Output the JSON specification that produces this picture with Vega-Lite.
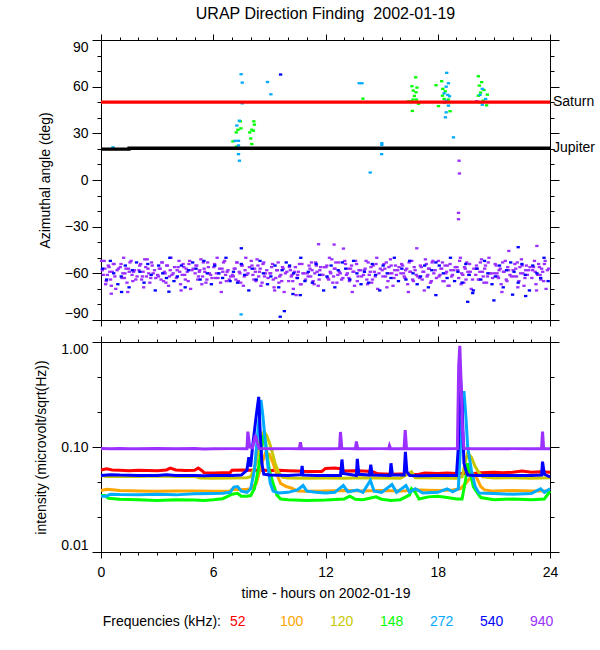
{
  "$schema": "https://vega.github.io/schema/vega-lite/v6.json",
  "padding": {"left": 34, "top": 5, "right": 5, "bottom": 5},
  "spacing": 8,
  "config": {
    "font": "Liberation Sans",
    "view": {"stroke": "black", "strokeWidth": 1},
    "axis": {
      "domain": false,
      "grid": false,
      "tickColor": "black",
      "labelColor": "black",
      "labelFontSize": 14,
      "labelOverlap": false,
      "titleColor": "black",
      "titleFontSize": 14,
      "titleFontWeight": "normal"
    }
  },
  "datasets": {
    "angles": [
      {"t":0.03,"a":-52,"f":"940"},{"t":0.12,"a":-61,"f":"940"},{"t":0.21,"a":-57,"f":"940"},{"t":0.28,"a":-65,"f":"940"},{"t":0.39,"a":-55,"f":"940"},{"t":0.47,"a":-59,"f":"940"},{"t":0.55,"a":-68,"f":"940"},{"t":0.66,"a":-54,"f":"940"},{"t":0.74,"a":-62,"f":"940"},{"t":0.86,"a":-58,"f":"940"},
      {"t":1.03,"a":-56,"f":"940"},{"t":1.12,"a":-63,"f":"940"},{"t":1.21,"a":-50,"f":"940"},{"t":1.28,"a":-60,"f":"940"},{"t":1.39,"a":-66,"f":"940"},{"t":1.47,"a":-57,"f":"940"},{"t":1.55,"a":-53,"f":"940"},{"t":1.66,"a":-61,"f":"940"},{"t":1.74,"a":-59,"f":"940"},{"t":1.86,"a":-64,"f":"940"},
      {"t":2.03,"a":-58,"f":"940"},{"t":2.12,"a":-54,"f":"940"},{"t":2.21,"a":-62,"f":"940"},{"t":2.28,"a":-69,"f":"940"},{"t":2.39,"a":-56,"f":"940"},{"t":2.47,"a":-51,"f":"940"},{"t":2.55,"a":-60,"f":"940"},{"t":2.66,"a":-63,"f":"940"},{"t":2.74,"a":-55,"f":"940"},{"t":2.86,"a":-58,"f":"940"},
      {"t":3.03,"a":-61,"f":"940"},{"t":3.12,"a":-57,"f":"940"},{"t":3.21,"a":-64,"f":"940"},{"t":3.28,"a":-53,"f":"940"},{"t":3.39,"a":-59,"f":"940"},{"t":3.47,"a":-66,"f":"940"},{"t":3.55,"a":-55,"f":"940"},{"t":3.66,"a":-62,"f":"940"},{"t":3.74,"a":-50,"f":"940"},{"t":3.86,"a":-60,"f":"940"},
      {"t":4.03,"a":-63,"f":"940"},{"t":4.12,"a":-56,"f":"940"},{"t":4.21,"a":-59,"f":"940"},{"t":4.28,"a":-71,"f":"940"},{"t":4.39,"a":-54,"f":"940"},{"t":4.47,"a":-61,"f":"940"},{"t":4.55,"a":-57,"f":"940"},{"t":4.66,"a":-65,"f":"940"},{"t":4.74,"a":-52,"f":"940"},{"t":4.86,"a":-58,"f":"940"},
      {"t":5.03,"a":-60,"f":"940"},{"t":5.12,"a":-55,"f":"940"},{"t":5.21,"a":-62,"f":"940"},{"t":5.28,"a":-58,"f":"940"},{"t":5.39,"a":-67,"f":"940"},{"t":5.47,"a":-53,"f":"940"},{"t":5.55,"a":-59,"f":"940"},{"t":5.66,"a":-64,"f":"940"},{"t":5.74,"a":-56,"f":"940"},{"t":5.86,"a":-61,"f":"940"},
      {"t":6.03,"a":-56,"f":"940"},{"t":6.12,"a":-63,"f":"940"},{"t":6.21,"a":-50,"f":"940"},{"t":6.28,"a":-60,"f":"940"},{"t":6.39,"a":-66,"f":"940"},{"t":6.47,"a":-57,"f":"940"},{"t":6.55,"a":-53,"f":"940"},{"t":6.66,"a":-61,"f":"940"},{"t":6.74,"a":-59,"f":"940"},{"t":6.86,"a":-64,"f":"940"},
      {"t":7.03,"a":-61,"f":"940"},{"t":7.12,"a":-57,"f":"940"},{"t":7.21,"a":-64,"f":"940"},{"t":7.28,"a":-53,"f":"940"},{"t":7.39,"a":-59,"f":"940"},{"t":7.47,"a":-66,"f":"940"},{"t":7.55,"a":-55,"f":"940"},{"t":7.66,"a":-62,"f":"940"},{"t":7.74,"a":-50,"f":"940"},{"t":7.86,"a":-60,"f":"940"},
      {"t":8.03,"a":-52,"f":"940"},{"t":8.12,"a":-61,"f":"940"},{"t":8.21,"a":-57,"f":"940"},{"t":8.28,"a":-65,"f":"940"},{"t":8.39,"a":-55,"f":"940"},{"t":8.47,"a":-59,"f":"940"},{"t":8.55,"a":-68,"f":"940"},{"t":8.66,"a":-54,"f":"940"},{"t":8.74,"a":-62,"f":"940"},{"t":8.86,"a":-58,"f":"940"},
      {"t":9.03,"a":-60,"f":"940"},{"t":9.12,"a":-56,"f":"940"},{"t":9.21,"a":-64,"f":"940"},{"t":9.28,"a":-71,"f":"940"},{"t":9.39,"a":-58,"f":"940"},{"t":9.47,"a":-53,"f":"940"},{"t":9.55,"a":-62,"f":"940"},{"t":9.66,"a":-65,"f":"940"},{"t":9.74,"a":-57,"f":"940"},{"t":9.86,"a":-60,"f":"940"},
      {"t":10.03,"a":-65,"f":"940"},{"t":10.12,"a":-58,"f":"940"},{"t":10.21,"a":-61,"f":"940"},{"t":10.28,"a":-70,"f":"940"},{"t":10.39,"a":-56,"f":"940"},{"t":10.47,"a":-63,"f":"940"},{"t":10.55,"a":-59,"f":"940"},{"t":10.66,"a":-67,"f":"940"},{"t":10.74,"a":-54,"f":"940"},{"t":10.86,"a":-60,"f":"940"},
      {"t":11.03,"a":-60,"f":"940"},{"t":11.12,"a":-55,"f":"940"},{"t":11.21,"a":-62,"f":"940"},{"t":11.28,"a":-58,"f":"940"},{"t":11.39,"a":-67,"f":"940"},{"t":11.47,"a":-53,"f":"940"},{"t":11.55,"a":-59,"f":"940"},{"t":11.66,"a":-64,"f":"940"},{"t":11.74,"a":-56,"f":"940"},{"t":11.86,"a":-61,"f":"940"},
      {"t":12.03,"a":-56,"f":"940"},{"t":12.12,"a":-63,"f":"940"},{"t":12.21,"a":-50,"f":"940"},{"t":12.28,"a":-60,"f":"940"},{"t":12.39,"a":-66,"f":"940"},{"t":12.47,"a":-57,"f":"940"},{"t":12.55,"a":-53,"f":"940"},{"t":12.66,"a":-61,"f":"940"},{"t":12.74,"a":-59,"f":"940"},{"t":12.86,"a":-64,"f":"940"},
      {"t":13.03,"a":-52,"f":"940"},{"t":13.12,"a":-61,"f":"940"},{"t":13.21,"a":-57,"f":"940"},{"t":13.28,"a":-65,"f":"940"},{"t":13.39,"a":-55,"f":"940"},{"t":13.47,"a":-59,"f":"940"},{"t":13.55,"a":-68,"f":"940"},{"t":13.66,"a":-54,"f":"940"},{"t":13.74,"a":-62,"f":"940"},{"t":13.86,"a":-58,"f":"940"},
      {"t":14.03,"a":-61,"f":"940"},{"t":14.12,"a":-57,"f":"940"},{"t":14.21,"a":-64,"f":"940"},{"t":14.28,"a":-53,"f":"940"},{"t":14.39,"a":-59,"f":"940"},{"t":14.47,"a":-66,"f":"940"},{"t":14.55,"a":-55,"f":"940"},{"t":14.66,"a":-62,"f":"940"},{"t":14.74,"a":-50,"f":"940"},{"t":14.86,"a":-60,"f":"940"},
      {"t":15.03,"a":-58,"f":"940"},{"t":15.12,"a":-54,"f":"940"},{"t":15.21,"a":-62,"f":"940"},{"t":15.28,"a":-69,"f":"940"},{"t":15.39,"a":-56,"f":"940"},{"t":15.47,"a":-51,"f":"940"},{"t":15.55,"a":-60,"f":"940"},{"t":15.66,"a":-63,"f":"940"},{"t":15.74,"a":-55,"f":"940"},{"t":15.86,"a":-58,"f":"940"},
      {"t":16.03,"a":-60,"f":"940"},{"t":16.12,"a":-55,"f":"940"},{"t":16.21,"a":-62,"f":"940"},{"t":16.28,"a":-58,"f":"940"},{"t":16.39,"a":-67,"f":"940"},{"t":16.47,"a":-53,"f":"940"},{"t":16.55,"a":-59,"f":"940"},{"t":16.66,"a":-64,"f":"940"},{"t":16.74,"a":-56,"f":"940"},{"t":16.86,"a":-61,"f":"940"},
      {"t":17.03,"a":-63,"f":"940"},{"t":17.12,"a":-56,"f":"940"},{"t":17.21,"a":-59,"f":"940"},{"t":17.28,"a":-71,"f":"940"},{"t":17.39,"a":-54,"f":"940"},{"t":17.47,"a":-61,"f":"940"},{"t":17.55,"a":-57,"f":"940"},{"t":17.66,"a":-65,"f":"940"},{"t":17.74,"a":-52,"f":"940"},{"t":17.86,"a":-58,"f":"940"},
      {"t":18.03,"a":-52,"f":"940"},{"t":18.12,"a":-61,"f":"940"},{"t":18.21,"a":-57,"f":"940"},{"t":18.28,"a":-65,"f":"940"},{"t":18.39,"a":-55,"f":"940"},{"t":18.47,"a":-59,"f":"940"},{"t":18.55,"a":-68,"f":"940"},{"t":18.66,"a":-54,"f":"940"},{"t":18.74,"a":-62,"f":"940"},{"t":18.86,"a":-58,"f":"940"},
      {"t":19.03,"a":-56,"f":"940"},{"t":19.12,"a":-63,"f":"940"},{"t":19.21,"a":-50,"f":"940"},{"t":19.28,"a":-60,"f":"940"},{"t":19.39,"a":-66,"f":"940"},{"t":19.47,"a":-57,"f":"940"},{"t":19.55,"a":-53,"f":"940"},{"t":19.66,"a":-61,"f":"940"},{"t":19.74,"a":-59,"f":"940"},{"t":19.86,"a":-64,"f":"940"},
      {"t":20.03,"a":-61,"f":"940"},{"t":20.12,"a":-57,"f":"940"},{"t":20.21,"a":-64,"f":"940"},{"t":20.28,"a":-53,"f":"940"},{"t":20.39,"a":-59,"f":"940"},{"t":20.47,"a":-66,"f":"940"},{"t":20.55,"a":-55,"f":"940"},{"t":20.66,"a":-62,"f":"940"},{"t":20.74,"a":-50,"f":"940"},{"t":20.86,"a":-60,"f":"940"},
      {"t":21.03,"a":-60,"f":"940"},{"t":21.12,"a":-55,"f":"940"},{"t":21.21,"a":-62,"f":"940"},{"t":21.28,"a":-58,"f":"940"},{"t":21.39,"a":-67,"f":"940"},{"t":21.47,"a":-53,"f":"940"},{"t":21.55,"a":-59,"f":"940"},{"t":21.66,"a":-64,"f":"940"},{"t":21.74,"a":-56,"f":"940"},{"t":21.86,"a":-61,"f":"940"},
      {"t":22.03,"a":-58,"f":"940"},{"t":22.12,"a":-54,"f":"940"},{"t":22.21,"a":-62,"f":"940"},{"t":22.28,"a":-69,"f":"940"},{"t":22.39,"a":-56,"f":"940"},{"t":22.47,"a":-51,"f":"940"},{"t":22.55,"a":-60,"f":"940"},{"t":22.66,"a":-63,"f":"940"},{"t":22.74,"a":-55,"f":"940"},{"t":22.86,"a":-58,"f":"940"},
      {"t":23.03,"a":-63,"f":"940"},{"t":23.12,"a":-56,"f":"940"},{"t":23.21,"a":-59,"f":"940"},{"t":23.28,"a":-71,"f":"940"},{"t":23.39,"a":-54,"f":"940"},{"t":23.47,"a":-61,"f":"940"},{"t":23.55,"a":-57,"f":"940"},{"t":23.66,"a":-65,"f":"940"},{"t":23.74,"a":-52,"f":"940"},{"t":23.86,"a":-58,"f":"940"},
      {"t":0.07,"a":-58,"f":"940"},{"t":0.17,"a":-52,"f":"940"},{"t":0.25,"a":-67,"f":"940"},{"t":0.34,"a":-61,"f":"940"},{"t":0.43,"a":-56,"f":"940"},{"t":0.51,"a":-64,"f":"940"},{"t":0.61,"a":-59,"f":"940"},{"t":0.7,"a":-54,"f":"940"},{"t":0.79,"a":-70,"f":"940"},{"t":0.93,"a":-57,"f":"940"},
      {"t":1.07,"a":-54,"f":"940"},{"t":1.17,"a":-60,"f":"940"},{"t":1.25,"a":-63,"f":"940"},{"t":1.34,"a":-57,"f":"940"},{"t":1.43,"a":-72,"f":"940"},{"t":1.51,"a":-59,"f":"940"},{"t":1.61,"a":-52,"f":"940"},{"t":1.7,"a":-65,"f":"940"},{"t":1.79,"a":-58,"f":"940"},{"t":1.93,"a":-62,"f":"940"},
      {"t":2.07,"a":-55,"f":"940"},{"t":2.17,"a":-64,"f":"940"},{"t":2.25,"a":-59,"f":"940"},{"t":2.34,"a":-51,"f":"940"},{"t":2.43,"a":-62,"f":"940"},{"t":2.51,"a":-57,"f":"940"},{"t":2.61,"a":-66,"f":"940"},{"t":2.7,"a":-53,"f":"940"},{"t":2.79,"a":-60,"f":"940"},{"t":2.93,"a":-63,"f":"940"},
      {"t":3.07,"a":-62,"f":"940"},{"t":3.17,"a":-57,"f":"940"},{"t":3.25,"a":-53,"f":"940"},{"t":3.34,"a":-65,"f":"940"},{"t":3.43,"a":-60,"f":"940"},{"t":3.51,"a":-55,"f":"940"},{"t":3.61,"a":-68,"f":"940"},{"t":3.7,"a":-58,"f":"940"},{"t":3.79,"a":-61,"f":"940"},{"t":3.93,"a":-56,"f":"940"},
      {"t":4.07,"a":-58,"f":"940"},{"t":4.17,"a":-52,"f":"940"},{"t":4.25,"a":-67,"f":"940"},{"t":4.34,"a":-61,"f":"940"},{"t":4.43,"a":-56,"f":"940"},{"t":4.51,"a":-64,"f":"940"},{"t":4.61,"a":-59,"f":"940"},{"t":4.7,"a":-54,"f":"940"},{"t":4.79,"a":-70,"f":"940"},{"t":4.93,"a":-57,"f":"940"},
      {"t":5.07,"a":-55,"f":"940"},{"t":5.17,"a":-64,"f":"940"},{"t":5.25,"a":-59,"f":"940"},{"t":5.34,"a":-51,"f":"940"},{"t":5.43,"a":-62,"f":"940"},{"t":5.51,"a":-57,"f":"940"},{"t":5.61,"a":-66,"f":"940"},{"t":5.7,"a":-53,"f":"940"},{"t":5.79,"a":-60,"f":"940"},{"t":5.93,"a":-63,"f":"940"},
      {"t":6.07,"a":-54,"f":"940"},{"t":6.17,"a":-60,"f":"940"},{"t":6.25,"a":-63,"f":"940"},{"t":6.34,"a":-57,"f":"940"},{"t":6.43,"a":-72,"f":"940"},{"t":6.51,"a":-59,"f":"940"},{"t":6.61,"a":-52,"f":"940"},{"t":6.7,"a":-65,"f":"940"},{"t":6.79,"a":-58,"f":"940"},{"t":6.93,"a":-62,"f":"940"},
      {"t":7.07,"a":-62,"f":"940"},{"t":7.17,"a":-57,"f":"940"},{"t":7.25,"a":-53,"f":"940"},{"t":7.34,"a":-65,"f":"940"},{"t":7.43,"a":-60,"f":"940"},{"t":7.51,"a":-55,"f":"940"},{"t":7.61,"a":-68,"f":"940"},{"t":7.7,"a":-58,"f":"940"},{"t":7.79,"a":-61,"f":"940"},{"t":7.93,"a":-56,"f":"940"},
      {"t":8.07,"a":-55,"f":"940"},{"t":8.17,"a":-64,"f":"940"},{"t":8.25,"a":-59,"f":"940"},{"t":8.34,"a":-51,"f":"940"},{"t":8.43,"a":-62,"f":"940"},{"t":8.51,"a":-57,"f":"940"},{"t":8.61,"a":-66,"f":"940"},{"t":8.7,"a":-53,"f":"940"},{"t":8.79,"a":-60,"f":"940"},{"t":8.93,"a":-63,"f":"940"},
      {"t":9.07,"a":-60,"f":"940"},{"t":9.17,"a":-54,"f":"940"},{"t":9.25,"a":-69,"f":"940"},{"t":9.34,"a":-63,"f":"940"},{"t":9.43,"a":-58,"f":"940"},{"t":9.51,"a":-66,"f":"940"},{"t":9.61,"a":-61,"f":"940"},{"t":9.7,"a":-56,"f":"940"},{"t":9.79,"a":-72,"f":"940"},{"t":9.93,"a":-59,"f":"940"},
      {"t":10.07,"a":-56,"f":"940"},{"t":10.17,"a":-62,"f":"940"},{"t":10.25,"a":-65,"f":"940"},{"t":10.34,"a":-59,"f":"940"},{"t":10.43,"a":-74,"f":"940"},{"t":10.51,"a":-61,"f":"940"},{"t":10.61,"a":-54,"f":"940"},{"t":10.7,"a":-67,"f":"940"},{"t":10.79,"a":-60,"f":"940"},{"t":10.93,"a":-64,"f":"940"},
      {"t":11.07,"a":-62,"f":"940"},{"t":11.17,"a":-57,"f":"940"},{"t":11.25,"a":-53,"f":"940"},{"t":11.34,"a":-65,"f":"940"},{"t":11.43,"a":-60,"f":"940"},{"t":11.51,"a":-55,"f":"940"},{"t":11.61,"a":-68,"f":"940"},{"t":11.7,"a":-58,"f":"940"},{"t":11.79,"a":-61,"f":"940"},{"t":11.93,"a":-56,"f":"940"},
      {"t":12.07,"a":-55,"f":"940"},{"t":12.17,"a":-64,"f":"940"},{"t":12.25,"a":-59,"f":"940"},{"t":12.34,"a":-51,"f":"940"},{"t":12.43,"a":-62,"f":"940"},{"t":12.51,"a":-57,"f":"940"},{"t":12.61,"a":-66,"f":"940"},{"t":12.7,"a":-53,"f":"940"},{"t":12.79,"a":-60,"f":"940"},{"t":12.93,"a":-63,"f":"940"},
      {"t":13.07,"a":-54,"f":"940"},{"t":13.17,"a":-60,"f":"940"},{"t":13.25,"a":-63,"f":"940"},{"t":13.34,"a":-57,"f":"940"},{"t":13.43,"a":-72,"f":"940"},{"t":13.51,"a":-59,"f":"940"},{"t":13.61,"a":-52,"f":"940"},{"t":13.7,"a":-65,"f":"940"},{"t":13.79,"a":-58,"f":"940"},{"t":13.93,"a":-62,"f":"940"},
      {"t":14.07,"a":-58,"f":"940"},{"t":14.17,"a":-52,"f":"940"},{"t":14.25,"a":-67,"f":"940"},{"t":14.34,"a":-61,"f":"940"},{"t":14.43,"a":-56,"f":"940"},{"t":14.51,"a":-64,"f":"940"},{"t":14.61,"a":-59,"f":"940"},{"t":14.7,"a":-54,"f":"940"},{"t":14.79,"a":-70,"f":"940"},{"t":14.93,"a":-57,"f":"940"},
      {"t":15.07,"a":-62,"f":"940"},{"t":15.17,"a":-57,"f":"940"},{"t":15.25,"a":-53,"f":"940"},{"t":15.34,"a":-65,"f":"940"},{"t":15.43,"a":-60,"f":"940"},{"t":15.51,"a":-55,"f":"940"},{"t":15.61,"a":-68,"f":"940"},{"t":15.7,"a":-58,"f":"940"},{"t":15.79,"a":-61,"f":"940"},{"t":15.93,"a":-56,"f":"940"},
      {"t":16.07,"a":-54,"f":"940"},{"t":16.17,"a":-60,"f":"940"},{"t":16.25,"a":-63,"f":"940"},{"t":16.34,"a":-57,"f":"940"},{"t":16.43,"a":-72,"f":"940"},{"t":16.51,"a":-59,"f":"940"},{"t":16.61,"a":-52,"f":"940"},{"t":16.7,"a":-65,"f":"940"},{"t":16.79,"a":-58,"f":"940"},{"t":16.93,"a":-62,"f":"940"},
      {"t":17.07,"a":-55,"f":"940"},{"t":17.17,"a":-64,"f":"940"},{"t":17.25,"a":-59,"f":"940"},{"t":17.34,"a":-51,"f":"940"},{"t":17.43,"a":-62,"f":"940"},{"t":17.51,"a":-57,"f":"940"},{"t":17.61,"a":-66,"f":"940"},{"t":17.7,"a":-53,"f":"940"},{"t":17.79,"a":-60,"f":"940"},{"t":17.93,"a":-63,"f":"940"},
      {"t":18.07,"a":-62,"f":"940"},{"t":18.17,"a":-57,"f":"940"},{"t":18.25,"a":-53,"f":"940"},{"t":18.34,"a":-65,"f":"940"},{"t":18.43,"a":-60,"f":"940"},{"t":18.51,"a":-55,"f":"940"},{"t":18.61,"a":-68,"f":"940"},{"t":18.7,"a":-58,"f":"940"},{"t":18.79,"a":-61,"f":"940"},{"t":18.93,"a":-56,"f":"940"},
      {"t":19.07,"a":-58,"f":"940"},{"t":19.17,"a":-52,"f":"940"},{"t":19.25,"a":-67,"f":"940"},{"t":19.34,"a":-61,"f":"940"},{"t":19.43,"a":-56,"f":"940"},{"t":19.51,"a":-64,"f":"940"},{"t":19.61,"a":-59,"f":"940"},{"t":19.7,"a":-54,"f":"940"},{"t":19.79,"a":-70,"f":"940"},{"t":19.93,"a":-57,"f":"940"},
      {"t":20.07,"a":-55,"f":"940"},{"t":20.17,"a":-64,"f":"940"},{"t":20.25,"a":-59,"f":"940"},{"t":20.34,"a":-51,"f":"940"},{"t":20.43,"a":-62,"f":"940"},{"t":20.51,"a":-57,"f":"940"},{"t":20.61,"a":-66,"f":"940"},{"t":20.7,"a":-53,"f":"940"},{"t":20.79,"a":-60,"f":"940"},{"t":20.93,"a":-63,"f":"940"},
      {"t":21.07,"a":-54,"f":"940"},{"t":21.17,"a":-60,"f":"940"},{"t":21.25,"a":-63,"f":"940"},{"t":21.34,"a":-57,"f":"940"},{"t":21.43,"a":-72,"f":"940"},{"t":21.51,"a":-59,"f":"940"},{"t":21.61,"a":-52,"f":"940"},{"t":21.7,"a":-65,"f":"940"},{"t":21.79,"a":-58,"f":"940"},{"t":21.93,"a":-62,"f":"940"},
      {"t":22.07,"a":-62,"f":"940"},{"t":22.17,"a":-57,"f":"940"},{"t":22.25,"a":-53,"f":"940"},{"t":22.34,"a":-65,"f":"940"},{"t":22.43,"a":-60,"f":"940"},{"t":22.51,"a":-55,"f":"940"},{"t":22.61,"a":-68,"f":"940"},{"t":22.7,"a":-58,"f":"940"},{"t":22.79,"a":-61,"f":"940"},{"t":22.93,"a":-56,"f":"940"},
      {"t":23.07,"a":-58,"f":"940"},{"t":23.17,"a":-52,"f":"940"},{"t":23.25,"a":-67,"f":"940"},{"t":23.34,"a":-61,"f":"940"},{"t":23.43,"a":-56,"f":"940"},{"t":23.51,"a":-64,"f":"940"},{"t":23.61,"a":-59,"f":"940"},{"t":23.7,"a":-54,"f":"940"},{"t":23.79,"a":-70,"f":"940"},{"t":23.93,"a":-57,"f":"940"},
      {"t":0.55,"a":-73.1,"f":"940"},{"t":11.63,"a":-41.3,"f":"940"},{"t":12.46,"a":-41.5,"f":"940"},{"t":12.96,"a":-44.1,"f":"940"},{"t":16.88,"a":-43.9,"f":"940"},{"t":23.3,"a":-42.4,"f":"940"},{"t":21.8,"a":-45.6,"f":"940"},
      {"t":19.14,"a":12.4,"f":"940"},{"t":19.16,"a":4.2,"f":"940"},{"t":19.11,"a":-21.1,"f":"940"},{"t":19.11,"a":-25.2,"f":"940"},{"t":20.08,"a":50.6,"f":"940"},
      {"t":0.08,"a":-57,"f":"540"},{"t":0.3,"a":-64,"f":"540"},{"t":0.5,"a":-52,"f":"540"},{"t":0.68,"a":-60,"f":"540"},{"t":0.9,"a":-67,"f":"540"},
      {"t":1.08,"a":-62,"f":"540"},{"t":1.3,"a":-55,"f":"540"},{"t":1.5,"a":-69,"f":"540"},{"t":1.68,"a":-58,"f":"540"},{"t":1.9,"a":-53,"f":"540"},
      {"t":2.08,"a":-59,"f":"540"},{"t":2.3,"a":-66,"f":"540"},{"t":2.5,"a":-54,"f":"540"},{"t":2.68,"a":-61,"f":"540"},{"t":2.9,"a":-71,"f":"540"},
      {"t":3.08,"a":-55,"f":"540"},{"t":3.3,"a":-60,"f":"540"},{"t":3.5,"a":-63,"f":"540"},{"t":3.68,"a":-50,"f":"540"},{"t":3.9,"a":-65,"f":"540"},
      {"t":4.08,"a":-62,"f":"540"},{"t":4.3,"a":-55,"f":"540"},{"t":4.5,"a":-69,"f":"540"},{"t":4.68,"a":-58,"f":"540"},{"t":4.9,"a":-53,"f":"540"},
      {"t":5.08,"a":-57,"f":"540"},{"t":5.3,"a":-64,"f":"540"},{"t":5.5,"a":-52,"f":"540"},{"t":5.68,"a":-60,"f":"540"},{"t":5.9,"a":-67,"f":"540"},
      {"t":6.08,"a":-55,"f":"540"},{"t":6.3,"a":-60,"f":"540"},{"t":6.5,"a":-63,"f":"540"},{"t":6.68,"a":-50,"f":"540"},{"t":6.9,"a":-65,"f":"540"},
      {"t":7.08,"a":-59,"f":"540"},{"t":7.3,"a":-66,"f":"540"},{"t":7.5,"a":-54,"f":"540"},{"t":7.68,"a":-61,"f":"540"},{"t":7.9,"a":-71,"f":"540"},
      {"t":8.08,"a":-57,"f":"540"},{"t":8.3,"a":-64,"f":"540"},{"t":8.5,"a":-52,"f":"540"},{"t":8.68,"a":-60,"f":"540"},{"t":8.9,"a":-67,"f":"540"},
      {"t":9.08,"a":-62,"f":"540"},{"t":9.3,"a":-55,"f":"540"},{"t":9.5,"a":-69,"f":"540"},{"t":9.68,"a":-58,"f":"540"},{"t":9.9,"a":-53,"f":"540"},
      {"t":10.08,"a":-55,"f":"540"},{"t":10.3,"a":-60,"f":"540"},{"t":10.5,"a":-63,"f":"540"},{"t":10.68,"a":-50,"f":"540"},{"t":10.9,"a":-65,"f":"540"},
      {"t":11.08,"a":-59,"f":"540"},{"t":11.3,"a":-66,"f":"540"},{"t":11.5,"a":-54,"f":"540"},{"t":11.68,"a":-61,"f":"540"},{"t":11.9,"a":-71,"f":"540"},
      {"t":12.08,"a":-62,"f":"540"},{"t":12.3,"a":-55,"f":"540"},{"t":12.5,"a":-69,"f":"540"},{"t":12.68,"a":-58,"f":"540"},{"t":12.9,"a":-53,"f":"540"},
      {"t":13.08,"a":-57,"f":"540"},{"t":13.3,"a":-64,"f":"540"},{"t":13.5,"a":-52,"f":"540"},{"t":13.68,"a":-60,"f":"540"},{"t":13.9,"a":-67,"f":"540"},
      {"t":14.08,"a":-59,"f":"540"},{"t":14.3,"a":-66,"f":"540"},{"t":14.5,"a":-54,"f":"540"},{"t":14.68,"a":-61,"f":"540"},{"t":14.9,"a":-71,"f":"540"},
      {"t":15.08,"a":-55,"f":"540"},{"t":15.3,"a":-60,"f":"540"},{"t":15.5,"a":-63,"f":"540"},{"t":15.68,"a":-50,"f":"540"},{"t":15.9,"a":-65,"f":"540"},
      {"t":16.08,"a":-57,"f":"540"},{"t":16.3,"a":-64,"f":"540"},{"t":16.5,"a":-52,"f":"540"},{"t":16.68,"a":-60,"f":"540"},{"t":16.9,"a":-67,"f":"540"},
      {"t":17.08,"a":-62,"f":"540"},{"t":17.3,"a":-55,"f":"540"},{"t":17.5,"a":-69,"f":"540"},{"t":17.68,"a":-58,"f":"540"},{"t":17.9,"a":-53,"f":"540"},
      {"t":18.08,"a":-55,"f":"540"},{"t":18.3,"a":-60,"f":"540"},{"t":18.5,"a":-63,"f":"540"},{"t":18.68,"a":-50,"f":"540"},{"t":18.9,"a":-65,"f":"540"},
      {"t":19.08,"a":-59,"f":"540"},{"t":19.3,"a":-66,"f":"540"},{"t":19.5,"a":-54,"f":"540"},{"t":19.68,"a":-61,"f":"540"},{"t":19.9,"a":-71,"f":"540"},
      {"t":20.08,"a":-57,"f":"540"},{"t":20.3,"a":-64,"f":"540"},{"t":20.5,"a":-52,"f":"540"},{"t":20.68,"a":-60,"f":"540"},{"t":20.9,"a":-67,"f":"540"},
      {"t":21.08,"a":-62,"f":"540"},{"t":21.3,"a":-55,"f":"540"},{"t":21.5,"a":-69,"f":"540"},{"t":21.68,"a":-58,"f":"540"},{"t":21.9,"a":-53,"f":"540"},
      {"t":22.08,"a":-59,"f":"540"},{"t":22.3,"a":-66,"f":"540"},{"t":22.5,"a":-54,"f":"540"},{"t":22.68,"a":-61,"f":"540"},{"t":22.9,"a":-71,"f":"540"},
      {"t":23.08,"a":-55,"f":"540"},{"t":23.3,"a":-60,"f":"540"},{"t":23.5,"a":-63,"f":"540"},{"t":23.68,"a":-50,"f":"540"},{"t":23.9,"a":-65,"f":"540"},
      {"t":17.9,"a":-74,"f":"540"},{"t":19.6,"a":-78.3,"f":"540"},{"t":19.87,"a":-72.7,"f":"540"},{"t":21.0,"a":-77.4,"f":"540"},{"t":22.0,"a":-73.7,"f":"540"},{"t":22.7,"a":-74.6,"f":"540"},{"t":10.26,"a":-73.3,"f":"540"},{"t":10.65,"a":-74,"f":"540"},{"t":3.63,"a":-71.8,"f":"540"},{"t":1.1,"a":-72,"f":"540"},{"t":22.3,"a":-43.2,"f":"540"},
      {"t":9.6,"a":67.8,"f":"540"},{"t":9.58,"a":-87.9,"f":"540"},{"t":9.8,"a":-84.3,"f":"540"},{"t":7.5,"a":-43.9,"f":"540"},
      {"t":7.45,"a":37.7,"f":"148"},{"t":7.32,"a":32.3,"f":"148"},{"t":7.48,"a":33.2,"f":"148"},{"t":7.23,"a":30.6,"f":"148"},{"t":7.05,"a":24.8,"f":"148"},{"t":7.23,"a":21.4,"f":"148"},{"t":7.33,"a":20.3,"f":"148"},
      {"t":8.17,"a":37.7,"f":"148"},{"t":8.2,"a":35.6,"f":"148"},{"t":8.06,"a":32.3,"f":"148"},{"t":8.15,"a":31.7,"f":"148"},{"t":7.95,"a":30.6,"f":"148"},{"t":8.0,"a":26.7,"f":"148"},{"t":8.06,"a":23.1,"f":"148"},
      {"t":14.0,"a":52.3,"f":"148"},
      {"t":16.82,"a":66,"f":"148"},{"t":16.62,"a":60.3,"f":"148"},{"t":16.89,"a":59.4,"f":"148"},{"t":16.69,"a":57.5,"f":"148"},{"t":16.84,"a":56.4,"f":"148"},{"t":16.75,"a":54,"f":"148"},{"t":16.68,"a":51.7,"f":"148"},{"t":16.86,"a":51.7,"f":"148"},{"t":16.43,"a":50.6,"f":"148"},{"t":16.61,"a":50.6,"f":"148"},{"t":16.97,"a":49,"f":"148"},{"t":16.64,"a":44.4,"f":"148"},
      {"t":17.91,"a":60.9,"f":"148"},{"t":18.21,"a":63.5,"f":"148"},{"t":18.27,"a":58.6,"f":"148"},{"t":18.4,"a":57,"f":"148"},{"t":18.25,"a":54.2,"f":"148"},{"t":18.34,"a":52.1,"f":"148"},{"t":18.57,"a":51.7,"f":"148"},{"t":18.04,"a":47.5,"f":"148"},{"t":18.66,"a":44.2,"f":"148"},
      {"t":20.17,"a":66.7,"f":"148"},{"t":20.35,"a":62.9,"f":"148"},{"t":20.22,"a":60.7,"f":"148"},{"t":20.47,"a":57.9,"f":"148"},{"t":20.29,"a":56.2,"f":"148"},{"t":20.65,"a":54.9,"f":"148"},{"t":20.17,"a":54.2,"f":"148"},{"t":20.43,"a":51,"f":"148"},{"t":20.27,"a":49.9,"f":"148"},{"t":20.61,"a":48,"f":"148"},
      {"t":7.49,"a":68,"f":"272"},{"t":7.55,"a":62.6,"f":"272"},{"t":8.9,"a":63,"f":"272"},{"t":9.08,"a":55.1,"f":"272"},{"t":7.55,"a":49.3,"f":"272"},{"t":7.39,"a":38.1,"f":"272"},{"t":7.26,"a":35,"f":"272"},{"t":7.17,"a":25.2,"f":"272"},{"t":7.35,"a":25.2,"f":"272"},{"t":7.35,"a":22.2,"f":"272"},{"t":7.35,"a":16.6,"f":"272"},{"t":7.4,"a":12.4,"f":"272"},{"t":0.64,"a":21,"f":"272"},{"t":7.49,"a":-86.4,"f":"272"},
      {"t":13.8,"a":62.2,"f":"272"},{"t":13.95,"a":62.2,"f":"272"},{"t":15.01,"a":23.7,"f":"272"},{"t":15.01,"a":22.6,"f":"272"},{"t":15.0,"a":16.6,"f":"272"},{"t":14.39,"a":4.8,"f":"272"},
      {"t":18.48,"a":68.9,"f":"272"},{"t":18.57,"a":62.2,"f":"272"},{"t":18.45,"a":60,"f":"272"},{"t":18.34,"a":55.7,"f":"272"},{"t":18.54,"a":54.7,"f":"272"},{"t":18.63,"a":53.8,"f":"272"},{"t":18.45,"a":51,"f":"272"},{"t":18.36,"a":49.7,"f":"272"},{"t":18.57,"a":47.8,"f":"272"},{"t":18.45,"a":43.5,"f":"272"},{"t":18.41,"a":40.3,"f":"272"},{"t":18.84,"a":27.4,"f":"272"},
      {"t":20.38,"a":58.6,"f":"272"},{"t":20.26,"a":54.7,"f":"272"},{"t":20.56,"a":52.1,"f":"272"},{"t":20.38,"a":48.4,"f":"272"}
    ],
    "planets": [
      {"t":0,"a":50,"p":"Saturn"},{"t":24,"a":50,"p":"Saturn"},
      {"t":0,"a":19.8,"p":"Jupiter"},{"t":1.5,"a":20.4,"p":"Jupiter"},{"t":24,"a":20.4,"p":"Jupiter"}
    ],
    "intensity": [
      {"t":0,"f":"52","v":0.0605},{"t":0.3,"f":"52","v":0.062},{"t":0.6,"f":"52","v":0.0605},{"t":1,"f":"52","v":0.06},{"t":1.5,"f":"52","v":0.0595},{"t":2,"f":"52","v":0.06},{"t":2.5,"f":"52","v":0.0598},{"t":3,"f":"52","v":0.0595},{"t":3.5,"f":"52","v":0.0605},{"t":3.7,"f":"52","v":0.063},{"t":4,"f":"52","v":0.0605},{"t":4.5,"f":"52","v":0.0598},{"t":5,"f":"52","v":0.06},{"t":5.2,"f":"52","v":0.063},{"t":5.4,"f":"52","v":0.0595},{"t":5.5,"f":"52","v":0.057},{"t":6,"f":"52","v":0.0565},{"t":6.5,"f":"52","v":0.057},{"t":6.9,"f":"52","v":0.057},{"t":7,"f":"52","v":0.06},{"t":7.5,"f":"52","v":0.0605},{"t":8,"f":"52","v":0.06},{"t":8.5,"f":"52","v":0.0605},{"t":9,"f":"52","v":0.0598},{"t":9.5,"f":"52","v":0.06},{"t":10,"f":"52","v":0.0595},{"t":10.5,"f":"52","v":0.0592},{"t":11,"f":"52","v":0.0585},{"t":11.8,"f":"52","v":0.0585},{"t":12,"f":"52","v":0.0625},{"t":12.5,"f":"52","v":0.063},{"t":12.8,"f":"52","v":0.062},{"t":13,"f":"52","v":0.059},{"t":13.5,"f":"52","v":0.0595},{"t":14,"f":"52","v":0.059},{"t":14.5,"f":"52","v":0.0585},{"t":14.8,"f":"52","v":0.0555},{"t":15.5,"f":"52","v":0.055},{"t":16,"f":"52","v":0.0552},{"t":16.5,"f":"52","v":0.0548},{"t":17,"f":"52","v":0.055},{"t":17.3,"f":"52","v":0.0565},{"t":18,"f":"52","v":0.056},{"t":18.5,"f":"52","v":0.0565},{"t":19,"f":"52","v":0.056},{"t":19.4,"f":"52","v":0.056},{"t":19.8,"f":"52","v":0.0555},{"t":20.3,"f":"52","v":0.057},{"t":21,"f":"52","v":0.0575},{"t":21.5,"f":"52","v":0.057},{"t":22,"f":"52","v":0.0575},{"t":22.5,"f":"52","v":0.059},{"t":23,"f":"52","v":0.0575},{"t":23.5,"f":"52","v":0.058},{"t":24,"f":"52","v":0.0575},
      {"t":0,"f":"100","v":0.0385},{"t":0.3,"f":"100","v":0.0395},{"t":0.6,"f":"100","v":0.0392},{"t":1,"f":"100","v":0.0385},{"t":2,"f":"100","v":0.038},{"t":3,"f":"100","v":0.0378},{"t":4,"f":"100","v":0.0382},{"t":5,"f":"100","v":0.038},{"t":6,"f":"100","v":0.0378},{"t":6.9,"f":"100","v":0.038},{"t":7,"f":"100","v":0.0395},{"t":7.5,"f":"100","v":0.0392},{"t":7.8,"f":"100","v":0.0395},{"t":8,"f":"100","v":0.04},{"t":8.3,"f":"100","v":0.045},{"t":8.6,"f":"100","v":0.07},{"t":8.8,"f":"100","v":0.088},{"t":9,"f":"100","v":0.085},{"t":9.2,"f":"100","v":0.07},{"t":9.4,"f":"100","v":0.055},{"t":9.6,"f":"100","v":0.045},{"t":9.9,"f":"100","v":0.042},{"t":10.2,"f":"100","v":0.0405},{"t":10.5,"f":"100","v":0.038},{"t":11,"f":"100","v":0.0378},{"t":12,"f":"100","v":0.038},{"t":13,"f":"100","v":0.0385},{"t":14,"f":"100","v":0.038},{"t":15,"f":"100","v":0.0385},{"t":16,"f":"100","v":0.038},{"t":17,"f":"100","v":0.039},{"t":18,"f":"100","v":0.0385},{"t":18.8,"f":"100","v":0.039},{"t":19.2,"f":"100","v":0.04},{"t":19.5,"f":"100","v":0.045},{"t":19.7,"f":"100","v":0.05},{"t":19.9,"f":"100","v":0.055},{"t":20.1,"f":"100","v":0.05},{"t":20.3,"f":"100","v":0.042},{"t":20.5,"f":"100","v":0.039},{"t":21,"f":"100","v":0.038},{"t":22,"f":"100","v":0.0385},{"t":23,"f":"100","v":0.0382},{"t":24,"f":"100","v":0.038},
      {"t":0,"f":"120","v":0.0535},{"t":0.3,"f":"120","v":0.0525},{"t":1,"f":"120","v":0.0525},{"t":2,"f":"120","v":0.0525},{"t":3,"f":"120","v":0.053},{"t":4,"f":"120","v":0.0525},{"t":5,"f":"120","v":0.0525},{"t":5.3,"f":"120","v":0.0507},{"t":6,"f":"120","v":0.0505},{"t":7,"f":"120","v":0.0507},{"t":7.8,"f":"120","v":0.051},{"t":8,"f":"120","v":0.052},{"t":8.3,"f":"120","v":0.07},{"t":8.5,"f":"120","v":0.12},{"t":8.7,"f":"120","v":0.14},{"t":8.85,"f":"120","v":0.13},{"t":9,"f":"120","v":0.11},{"t":9.15,"f":"120","v":0.09},{"t":9.3,"f":"120","v":0.07},{"t":9.5,"f":"120","v":0.057},{"t":9.7,"f":"120","v":0.0515},{"t":10,"f":"120","v":0.0507},{"t":11,"f":"120","v":0.0505},{"t":12,"f":"120","v":0.0507},{"t":13,"f":"120","v":0.0505},{"t":14,"f":"120","v":0.051},{"t":15,"f":"120","v":0.0507},{"t":16,"f":"120","v":0.0505},{"t":16.6,"f":"120","v":0.058},{"t":16.8,"f":"120","v":0.051},{"t":17,"f":"120","v":0.051},{"t":18,"f":"120","v":0.0507},{"t":19,"f":"120","v":0.0505},{"t":19.3,"f":"120","v":0.052},{"t":19.5,"f":"120","v":0.075},{"t":19.6,"f":"120","v":0.088},{"t":19.8,"f":"120","v":0.08},{"t":20,"f":"120","v":0.065},{"t":20.2,"f":"120","v":0.057},{"t":20.4,"f":"120","v":0.052},{"t":21,"f":"120","v":0.0507},{"t":22,"f":"120","v":0.051},{"t":23,"f":"120","v":0.0505},{"t":24,"f":"120","v":0.051},
      {"t":0,"f":"148","v":0.0345},{"t":0.2,"f":"148","v":0.0345},{"t":0.4,"f":"148","v":0.0325},{"t":1,"f":"148","v":0.0318},{"t":2,"f":"148","v":0.0315},{"t":3,"f":"148","v":0.031},{"t":4,"f":"148","v":0.0315},{"t":5,"f":"148","v":0.0312},{"t":5.5,"f":"148","v":0.031},{"t":6,"f":"148","v":0.0315},{"t":6.5,"f":"148","v":0.0322},{"t":6.8,"f":"148","v":0.034},{"t":7,"f":"148","v":0.0355},{"t":7.3,"f":"148","v":0.0362},{"t":7.5,"f":"148","v":0.034},{"t":7.8,"f":"148","v":0.034},{"t":8,"f":"148","v":0.0345},{"t":8.2,"f":"148","v":0.04},{"t":8.4,"f":"148","v":0.06},{"t":8.6,"f":"148","v":0.1},{"t":8.7,"f":"148","v":0.13},{"t":8.8,"f":"148","v":0.11},{"t":8.9,"f":"148","v":0.08},{"t":9,"f":"148","v":0.06},{"t":9.2,"f":"148","v":0.045},{"t":9.4,"f":"148","v":0.035},{"t":9.6,"f":"148","v":0.032},{"t":10,"f":"148","v":0.0315},{"t":11,"f":"148","v":0.031},{"t":12,"f":"148","v":0.0312},{"t":13,"f":"148","v":0.032},{"t":13.3,"f":"148","v":0.034},{"t":13.6,"f":"148","v":0.0318},{"t":14,"f":"148","v":0.0315},{"t":14.7,"f":"148","v":0.0335},{"t":15,"f":"148","v":0.0318},{"t":15.5,"f":"148","v":0.031},{"t":16,"f":"148","v":0.0315},{"t":16.5,"f":"148","v":0.035},{"t":16.6,"f":"148","v":0.04},{"t":16.8,"f":"148","v":0.037},{"t":17,"f":"148","v":0.032},{"t":17.5,"f":"148","v":0.0335},{"t":18,"f":"148","v":0.034},{"t":18.5,"f":"148","v":0.033},{"t":19,"f":"148","v":0.032},{"t":19.3,"f":"148","v":0.032},{"t":19.5,"f":"148","v":0.05},{"t":19.6,"f":"148","v":0.07},{"t":19.75,"f":"148","v":0.055},{"t":19.9,"f":"148","v":0.042},{"t":20.1,"f":"148","v":0.037},{"t":20.3,"f":"148","v":0.033},{"t":21,"f":"148","v":0.0315},{"t":22,"f":"148","v":0.032},{"t":23,"f":"148","v":0.0315},{"t":23.7,"f":"148","v":0.032},{"t":24,"f":"148","v":0.038},
      {"t":0,"f":"272","v":0.034},{"t":0.3,"f":"272","v":0.034},{"t":0.5,"f":"272","v":0.0355},{"t":1,"f":"272","v":0.0352},{"t":2,"f":"272","v":0.035},{"t":3,"f":"272","v":0.0355},{"t":4,"f":"272","v":0.035},{"t":5,"f":"272","v":0.0358},{"t":6,"f":"272","v":0.036},{"t":6.5,"f":"272","v":0.0362},{"t":6.9,"f":"272","v":0.037},{"t":7.1,"f":"272","v":0.0415},{"t":7.3,"f":"272","v":0.042},{"t":7.5,"f":"272","v":0.038},{"t":7.8,"f":"272","v":0.037},{"t":8,"f":"272","v":0.04},{"t":8.2,"f":"272","v":0.06},{"t":8.4,"f":"272","v":0.15},{"t":8.55,"f":"272","v":0.28},{"t":8.65,"f":"272","v":0.2},{"t":8.75,"f":"272","v":0.13},{"t":8.85,"f":"272","v":0.085},{"t":8.95,"f":"272","v":0.06},{"t":9.05,"f":"272","v":0.045},{"t":9.2,"f":"272","v":0.038},{"t":9.5,"f":"272","v":0.0365},{"t":10,"f":"272","v":0.037},{"t":10.5,"f":"272","v":0.039},{"t":10.8,"f":"272","v":0.043},{"t":11,"f":"272","v":0.038},{"t":11.5,"f":"272","v":0.037},{"t":12,"f":"272","v":0.0365},{"t":12.5,"f":"272","v":0.037},{"t":12.95,"f":"272","v":0.043},{"t":13.2,"f":"272","v":0.0375},{"t":13.7,"f":"272","v":0.039},{"t":14,"f":"272","v":0.037},{"t":14.4,"f":"272","v":0.048},{"t":14.6,"f":"272","v":0.038},{"t":15,"f":"272","v":0.037},{"t":15.55,"f":"272","v":0.044},{"t":15.8,"f":"272","v":0.037},{"t":16.3,"f":"272","v":0.043},{"t":16.5,"f":"272","v":0.037},{"t":16.8,"f":"272","v":0.04},{"t":17.2,"f":"272","v":0.0365},{"t":18,"f":"272","v":0.037},{"t":18.5,"f":"272","v":0.04},{"t":18.8,"f":"272","v":0.0375},{"t":19.1,"f":"272","v":0.04},{"t":19.2,"f":"272","v":0.09},{"t":19.3,"f":"272","v":0.22},{"t":19.4,"f":"272","v":0.34},{"t":19.5,"f":"272","v":0.2},{"t":19.6,"f":"272","v":0.1},{"t":19.8,"f":"272","v":0.06},{"t":20,"f":"272","v":0.042},{"t":20.2,"f":"272","v":0.0365},{"t":21,"f":"272","v":0.036},{"t":22,"f":"272","v":0.0355},{"t":23,"f":"272","v":0.036},{"t":23.5,"f":"272","v":0.04},{"t":23.7,"f":"272","v":0.037},{"t":24,"f":"272","v":0.04},
      {"t":0,"f":"540","v":0.0535},{"t":0.5,"f":"540","v":0.0545},{"t":1,"f":"540","v":0.054},{"t":2,"f":"540","v":0.0535},{"t":3,"f":"540","v":0.0535},{"t":3.5,"f":"540","v":0.0545},{"t":4,"f":"540","v":0.0535},{"t":5,"f":"540","v":0.0535},{"t":5.5,"f":"540","v":0.0532},{"t":6,"f":"540","v":0.0535},{"t":7,"f":"540","v":0.0535},{"t":7.5,"f":"540","v":0.054},{"t":7.8,"f":"540","v":0.06},{"t":7.9,"f":"540","v":0.08},{"t":8,"f":"540","v":0.065},{"t":8.1,"f":"540","v":0.1},{"t":8.3,"f":"540","v":0.2},{"t":8.43,"f":"540","v":0.3},{"t":8.5,"f":"540","v":0.15},{"t":8.6,"f":"540","v":0.07},{"t":8.7,"f":"540","v":0.055},{"t":9,"f":"540","v":0.054},{"t":10,"f":"540","v":0.0535},{"t":10.7,"f":"540","v":0.0545},{"t":10.75,"f":"540","v":0.066},{"t":10.8,"f":"540","v":0.054},{"t":11.5,"f":"540","v":0.0535},{"t":12,"f":"540","v":0.0535},{"t":12.8,"f":"540","v":0.0535},{"t":12.88,"f":"540","v":0.076},{"t":12.95,"f":"540","v":0.056},{"t":13.65,"f":"540","v":0.0535},{"t":13.7,"f":"540","v":0.077},{"t":13.78,"f":"540","v":0.055},{"t":14.35,"f":"540","v":0.054},{"t":14.42,"f":"540","v":0.068},{"t":14.5,"f":"540","v":0.054},{"t":15.45,"f":"540","v":0.0535},{"t":15.5,"f":"540","v":0.07},{"t":15.58,"f":"540","v":0.054},{"t":16.2,"f":"540","v":0.054},{"t":16.27,"f":"540","v":0.09},{"t":16.35,"f":"540","v":0.058},{"t":16.5,"f":"540","v":0.0535},{"t":17,"f":"540","v":0.0532},{"t":18,"f":"540","v":0.0535},{"t":19,"f":"540","v":0.0535},{"t":19.1,"f":"540","v":0.1},{"t":19.2,"f":"540","v":0.5},{"t":19.3,"f":"540","v":0.25},{"t":19.4,"f":"540","v":0.07},{"t":19.5,"f":"540","v":0.06},{"t":19.6,"f":"540","v":0.054},{"t":20,"f":"540","v":0.0535},{"t":21,"f":"540","v":0.0535},{"t":22,"f":"540","v":0.0535},{"t":23,"f":"540","v":0.0535},{"t":23.55,"f":"540","v":0.054},{"t":23.6,"f":"540","v":0.0725},{"t":23.7,"f":"540","v":0.055},{"t":24,"f":"540","v":0.052},
      {"t":0,"f":"940","v":0.097},{"t":0.5,"f":"940","v":0.0965},{"t":1,"f":"940","v":0.097},{"t":1.5,"f":"940","v":0.0965},{"t":2,"f":"940","v":0.0965},{"t":3,"f":"940","v":0.097},{"t":4,"f":"940","v":0.096},{"t":5,"f":"940","v":0.0965},{"t":5.5,"f":"940","v":0.0955},{"t":6,"f":"940","v":0.096},{"t":7,"f":"940","v":0.0965},{"t":7.8,"f":"940","v":0.0965},{"t":7.85,"f":"940","v":0.14},{"t":7.95,"f":"940","v":0.1},{"t":8.1,"f":"940","v":0.098},{"t":8.25,"f":"940","v":0.13},{"t":8.35,"f":"940","v":0.11},{"t":8.45,"f":"940","v":0.097},{"t":9,"f":"940","v":0.096},{"t":10,"f":"940","v":0.0965},{"t":10.6,"f":"940","v":0.0965},{"t":10.66,"f":"940","v":0.111},{"t":10.72,"f":"940","v":0.0965},{"t":11,"f":"940","v":0.0965},{"t":12,"f":"940","v":0.0962},{"t":12.75,"f":"940","v":0.0965},{"t":12.8,"f":"940","v":0.139},{"t":12.87,"f":"940","v":0.097},{"t":13.6,"f":"940","v":0.0965},{"t":13.65,"f":"940","v":0.113},{"t":13.72,"f":"940","v":0.0965},{"t":14,"f":"940","v":0.096},{"t":15,"f":"940","v":0.0965},{"t":15.38,"f":"940","v":0.0965},{"t":15.42,"f":"940","v":0.103},{"t":15.48,"f":"940","v":0.0965},{"t":16.2,"f":"940","v":0.0965},{"t":16.26,"f":"940","v":0.145},{"t":16.33,"f":"940","v":0.0965},{"t":17,"f":"940","v":0.0965},{"t":18,"f":"940","v":0.096},{"t":19.05,"f":"940","v":0.0965},{"t":19.12,"f":"940","v":0.6},{"t":19.18,"f":"940","v":0.92},{"t":19.25,"f":"940","v":0.4},{"t":19.32,"f":"940","v":0.15},{"t":19.4,"f":"940","v":0.0965},{"t":20,"f":"940","v":0.096},{"t":21,"f":"940","v":0.0962},{"t":22,"f":"940","v":0.0965},{"t":23,"f":"940","v":0.0962},{"t":23.55,"f":"940","v":0.0965},{"t":23.6,"f":"940","v":0.14},{"t":23.66,"f":"940","v":0.0965},{"t":24,"f":"940","v":0.0965}
    ],
    "freqs": [
      {"f":"52"},{"f":"100"},{"f":"120"},{"f":"148"},{"f":"272"},{"f":"540"},{"f":"940"}
    ]
  },
  "vconcat": [
    {
      "width": 449,
      "height": 280,
      "title": {"text": "URAP Direction Finding\u00a0 2002-01-19", "fontSize": 16, "fontWeight": "normal", "color": "black", "frame": "group", "offset": 12},
      "layer": [
        {
          "data": {"name": "angles"},
          "mark": {"type": "point", "shape": "M-1,-0.7H1V0.7H-1Z", "filled": true, "size": 11, "opacity": 1, "strokeWidth": 0},
          "encoding": {
            "x": {"field": "t", "type": "quantitative", "scale": {"domain": [0, 24], "nice": false, "zero": false},
              "axis": {"orient": "bottom", "values": [0,1,2,3,4,5,6,7,8,9,10,11,12,13,14,15,16,17,18,19,20,21,22,23,24], "labels": false, "title": null,
                "tickSize": {"condition": {"test": "datum.value % 6 === 0", "value": 6}, "value": 3}}},
            "y": {"field": "a", "type": "quantitative", "scale": {"domain": [-90, 90], "nice": false, "zero": false},
              "axis": {"orient": "left", "values": [-90,-80,-70,-60,-50,-40,-30,-20,-10,0,10,20,30,40,50,60,70,80,90],
                "labelExpr": "datum.value % 30 === 0 ? datum.label : ''", "labelFlush": true, "labelPadding": 4,
                "tickSize": {"condition": {"test": "datum.value % 30 === 0", "value": 9}, "value": 4},
                "title": "Azimuthal angle (deg)", "titlePadding": 12}},
            "color": {"field": "f", "type": "nominal",
              "scale": {"domain": ["52","100","120","148","272","540","940"], "range": ["#ff0000","#ffa500","#c8c800","#00ff00","#00aaff","#0000ff","#9b30ff"]},
              "legend": null}
          }
        },
        {
          "data": {"name": "planets"},
          "mark": {"type": "line", "interpolate": "step-after", "strokeWidth": 3.3},
          "encoding": {
            "x": {"field": "t", "type": "quantitative",
              "axis": {"orient": "top", "values": [0,1,2,3,4,5,6,7,8,9,10,11,12,13,14,15,16,17,18,19,20,21,22,23,24], "labels": false, "title": null,
                "tickSize": {"condition": {"test": "datum.value % 6 === 0", "value": 6}, "value": 3}}},
            "y": {"field": "a", "type": "quantitative",
              "axis": {"orient": "right", "values": [-90,-80,-70,-60,-50,-40,-30,-20,-10,0,10,20,30,40,50,60,70,80,90], "labels": false, "title": null,
                "tickSize": {"condition": {"test": "datum.value % 30 === 0", "value": 9}, "value": 4}}},
            "stroke": {"field": "p", "type": "nominal", "scale": {"domain": ["Saturn", "Jupiter"], "range": ["#ff0000", "#000000"]}, "legend": null}
          }
        },
        {
          "data": {"name": "planets"},
          "transform": [{"filter": "datum.t == 24"}],
          "mark": {"type": "text", "align": "left", "baseline": "middle", "dx": 3, "fontSize": 14, "color": "black"},
          "encoding": {
            "x": {"field": "t", "type": "quantitative", "axis": null},
            "y": {"field": "a", "type": "quantitative", "axis": null},
            "text": {"field": "p"}
          }
        }
      ],
      "resolve": {"axis": {"x": "independent", "y": "independent"}}
    },
    {
      "width": 449,
      "height": 210,
      "data": {"name": "intensity"},
      "layer": [
        {
          "transform": [{"filter": "datum.f != '940'"}],
          "mark": {"type": "line", "strokeWidth": 3},
          "encoding": {
            "x": {"field": "t", "type": "quantitative", "scale": {"domain": [0, 24], "nice": false, "zero": false},
              "axis": {"orient": "bottom", "values": [0,1,2,3,4,5,6,7,8,9,10,11,12,13,14,15,16,17,18,19,20,21,22,23,24],
                "labelExpr": "datum.value % 6 === 0 ? datum.label : ''", "labelFlush": false, "labelPadding": 7,
                "tickSize": {"condition": {"test": "datum.value % 6 === 0", "value": 6}, "value": 3},
                "title": "time - hours on 2002-01-19", "titlePadding": 7}},
            "y": {"field": "v", "type": "quantitative", "scale": {"type": "log", "domain": [0.01, 1], "nice": false},
              "axis": {"orient": "left", "values": [0.01, 0.02154, 0.04642, 0.1, 0.2154, 0.4642, 1], "format": ".2f",
                "labelExpr": "datum.value == 1 || datum.value == 0.1 || datum.value == 0.01 ? datum.label : ''", "labelFlush": true, "labelPadding": 4,
                "tickSize": {"condition": {"test": "datum.value == 1 || datum.value == 0.1 || datum.value == 0.01", "value": 9}, "value": 4},
                "title": "intensity (microvolt/sqrt(Hz))", "titlePadding": 12}},
            "color": {"field": "f", "type": "nominal",
              "scale": {"domain": ["52","100","120","148","272","540","940"], "range": ["#ff0000","#ffa500","#c8c800","#00ff00","#00aaff","#0000ff","#9b30ff"]},
              "legend": null}
          }
        },
        {
          "transform": [{"filter": "datum.f == '940'"}],
          "mark": {"type": "line", "strokeWidth": 3},
          "encoding": {
            "x": {"field": "t", "type": "quantitative",
              "axis": {"orient": "top", "values": [0,1,2,3,4,5,6,7,8,9,10,11,12,13,14,15,16,17,18,19,20,21,22,23,24], "labels": false, "title": null,
                "tickSize": {"condition": {"test": "datum.value % 6 === 0", "value": 6}, "value": 3}}},
            "y": {"field": "v", "type": "quantitative",
              "axis": {"orient": "right", "values": [0.01, 0.02154, 0.04642, 0.1, 0.2154, 0.4642, 1], "labels": false, "title": null,
                "tickSize": {"condition": {"test": "datum.value == 1 || datum.value == 0.1 || datum.value == 0.01", "value": 9}, "value": 4}}},
            "color": {"field": "f", "type": "nominal", "legend": null}
          }
        }
      ],
      "resolve": {"axis": {"x": "independent", "y": "independent"}}
    },
    {
      "width": 449,
      "height": 26,
      "view": {"stroke": null},
      "data": {"name": "freqs"},
      "layer": [
        {
          "mark": {"type": "text", "align": "left", "baseline": "middle", "fontSize": 14},
          "encoding": {
            "x": {"field": "f", "type": "nominal", "sort": null, "scale": {"type": "point", "range": [129, 429], "padding": 0}, "axis": null},
            "text": {"field": "f"},
            "color": {"field": "f", "type": "nominal", "legend": null}
          }
        },
        {
          "transform": [{"filter": "datum.f == '52'"}],
          "mark": {"type": "text", "align": "right", "baseline": "middle", "dx": -9, "fontSize": 14, "color": "black"},
          "encoding": {
            "x": {"field": "f", "type": "nominal", "sort": null, "axis": null},
            "text": {"value": "Frequencies (kHz):"}
          }
        }
      ]
    }
  ]
}
